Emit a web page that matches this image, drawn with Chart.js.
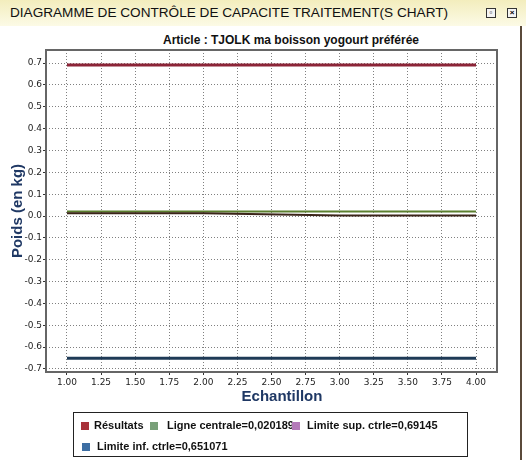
<!DOCTYPE html>
<html>
<head>
<meta charset="utf-8">
<script src="https://cdn.jsdelivr.net/npm/chart.js@4"></script>
<style>
  body { margin: 0; background: #fff; }
  #page { position: relative; width: 526px; height: 460px; overflow: hidden; font-family: "Liberation Sans", Arial, sans-serif; }
  #barre { position: absolute; left: 0; top: 0; width: 526px; height: 26px;
           background: linear-gradient(#f3edbd, #fcfae6); }
  #barre span.t { position: absolute; left: 10px; top: 5px; font-size: 13.6px; color: #111; white-space: pre; }
  .ico { position: absolute; top: 8px; width: 8px; height: 8px; border: 1px solid #333; background: #f4f4f4; font-size: 8px; line-height: 8px; text-align: center; font-weight: bold; }
  #cadreDroit { position: absolute; left: 520px; top: 26px; width: 2px; height: 434px; background: #5a4a3a; }
  #sousTitre { position: absolute; left: 141px; top: 33px; width: 300px; text-align: center; font-weight: bold; font-size: 12px; line-height: 14px; color: #111; }
  #titreX { position: absolute; left: 182px; top: 387px; width: 200px; text-align: center; font-weight: bold; font-size: 15px; line-height: 18px; color: #1f3864; }
  canvas { position: absolute; left: 0; top: 0; }
  #legende { position: absolute; left: 73px; top: 412px; width: 395px; height: 45px; border: 1px solid #222; box-sizing: border-box; }
  #legende .c { position: absolute; width: 8px; height: 8px; z-index: 2; }
  #legende .l { position: absolute; font-weight: bold; font-size: 11px; line-height: 13px; color: #111; white-space: nowrap; }
</style>
</head>
<body>
<div id="page">
  <div id="barre"><span class="t">DIAGRAMME DE CONTRÔLE DE CAPACITE TRAITEMENT(S CHART)</span>
    <div class="ico" style="left:486px">▫</div><div class="ico" style="left:507px">×</div></div>
  <div id="cadreDroit"></div>
  <div id="sousTitre">Article : TJOLK ma boisson yogourt préférée</div>
  <canvas id="chart" width="526" height="460"></canvas>
  <div id="titreX">Echantillon</div>
  <div id="legende"></div>
</div>
<script>
// valeurs
const echantillons = [1, 2, 3, 4];
const resultats = [0.013, 0.013, 0.002, 0.002];
const ligneCentrale = 0.020189;
const limiteSup = 0.69145;
const limiteInf = -0.651071;

const noms = ['Résultats', 'Ligne centrale=0,020189', 'Limite sup. ctrle=0,69145', 'Limite inf. ctrle=0,651071'];
const couleursLegende = ['#a8323a', '#79a079', '#b47ab9', '#3d6ea3'];
const couleursLignes = ['#3b2418', '#5b7f2e', '#8c2437', '#1e3a56'];

const serie = vals => echantillons.map((x, i) => ({ x: x, y: vals[i] }));
const constante = v => echantillons.map(x => ({ x: x, y: v }));

// legende en html, positions comme sur l'original
const leg = document.getElementById('legende');
const pos = [[7, 9, 20, 6], [76, 9, 93, 6], [218, 9, 233, 6], [8, 30, 23, 27]];
noms.forEach((n, i) => {
  const c = document.createElement('div');
  c.className = 'c';
  c.style.left = pos[i][0] + 'px'; c.style.top = pos[i][1] + 'px';
  c.style.background = couleursLegende[i];
  leg.appendChild(c);
  const l = document.createElement('div');
  l.className = 'l';
  l.textContent = n;
  l.style.left = pos[i][2] + 'px'; l.style.top = pos[i][3] + 'px';
  leg.appendChild(l);
});

const cadre = {
  id: 'cadre',
  beforeDatasetsDraw(chart) {
    const { ctx, chartArea: a } = chart;
    ctx.save();
    ctx.strokeStyle = '#666';
    ctx.lineWidth = 2;
    ctx.strokeRect(a.left, a.top, a.right - a.left, a.bottom - a.top);
    ctx.restore();
  }
};

const fmt = d => v => Math.abs(v) < 1e-9 ? (0).toFixed(d) : v.toFixed(d);

const tickFont = { family: 'DejaVu Sans', size: 9 };
const titreFont = { family: 'Liberation Sans', size: 15, weight: 'bold' };

const data = {
  datasets: [
    { label: noms[0], data: serie(resultats), borderColor: couleursLignes[0], borderWidth: 2 },
    { label: noms[1], data: constante(ligneCentrale), borderColor: couleursLignes[1], borderWidth: 2 },
    { label: noms[2], data: constante(limiteSup), borderColor: couleursLignes[2], borderWidth: 3 },
    { label: noms[3], data: constante(limiteInf), borderColor: couleursLignes[3], borderWidth: 3 }
  ]
};

const config = {
  type: 'line',
  data: data,
  options: {
    responsive: false,
    animation: false,
    elements: { point: { radius: 0 }, line: { tension: 0 } },
    layout: { padding: { left: 4, top: 50, right: 29, bottom: 51 } },
    plugins: { legend: { display: false }, tooltip: { enabled: false } },
    scales: {
      x: {
        type: 'linear', min: 0.846, max: 4.154,
        ticks: { stepSize: 0.25, includeBounds: false, autoSkip: false, maxRotation: 0, font: tickFont, color: '#222', padding: 2, callback: fmt(2) },
        grid: { color: '#808080', tickColor: '#333', tickLength: 3, tickBorderDash: [] },
        border: { display: false, dash: [1, 2] },
        afterFit(s) { s.height = 37; }
      },
      y: {
        min: -0.714, max: 0.76,
        ticks: { stepSize: 0.1, includeBounds: false, autoSkip: false, font: tickFont, color: '#222', padding: 1, callback: fmt(1) },
        grid: { color: '#808080', tickColor: '#333', tickLength: 3, tickBorderDash: [] },
        border: { display: false, dash: [1, 2] },
        title: { display: true, text: 'Poids (en kg)', color: '#1f3864', font: titreFont, padding: { top: 5, bottom: 4 } },
        afterFit(s) { s.width = 42; }
      }
    }
  },
  plugins: [cadre]
};

const myChart = new Chart(document.getElementById('chart'), config);
</script>
</body>
</html>
